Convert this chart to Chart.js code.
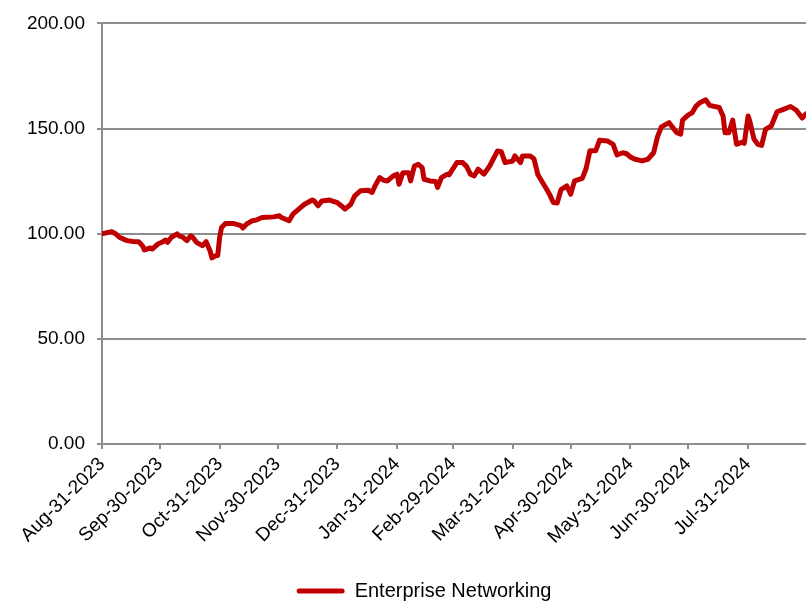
<!DOCTYPE html>
<html>
<head>
<meta charset="utf-8">
<script src="https://cdn.jsdelivr.net/npm/chart.js@4.4.1/dist/chart.umd.min.js"></script>
<style>
  html, body { margin: 0; padding: 0; background: #ffffff; }
  #wrap { width: 806px; height: 602px; }
</style>
</head>
<body>
<div id="wrap"><canvas id="c" width="806" height="602"></canvas></div>
<script>
// Index level of the Enterprise Networking basket, rebased to 100 on Aug-31-2023.
// Days are counted from Aug-31-2023.
const seriesName = 'Enterprise Networking';

const dayOffsets = [
  0, 5, 7, 9, 13, 16, 19, 21, 22, 25, 26, 29, 31, 33, 34, 36, 39, 40, 42, 44,
  46, 47, 49, 52, 54, 56, 57, 59, 60, 61, 62, 64, 68, 72, 73, 75, 78, 80, 83, 89,
  92, 93, 97, 99, 102, 105, 109, 110, 112, 114, 118, 122, 124, 126, 129, 131, 134, 138, 140, 142,
  144, 146, 148, 151, 153, 154, 156, 159, 160, 162, 164, 166, 167, 170, 173, 174, 176, 179, 180, 182,
  184, 187, 189, 191, 193, 195, 198, 201, 205, 207, 209, 213, 214, 217, 218, 222, 224, 226, 230, 232,
  234, 236, 238, 241, 243, 245, 249, 251, 253, 256, 258, 262, 265, 267, 270, 272, 274, 276, 280, 283,
  286, 288, 290, 294, 298, 300, 301, 304, 306, 308, 310, 313, 315, 320, 322, 323, 325, 327, 329, 332,
  333, 335, 336, 338, 340, 342, 344, 347, 350, 353, 357, 360, 363, 365
];

const indexValues = [
  100.0, 101.0, 100.0, 98.3, 96.7, 96.3, 96.2, 94.3, 92.3, 93.2, 92.7, 95.1, 95.9, 97.0, 95.9, 98.3, 99.9, 99.0, 98.3, 96.7,
  99.0, 98.3, 95.9, 94.3, 96.2, 91.9, 88.5, 89.6, 89.6, 98.3, 103.0, 104.9, 104.9, 103.8, 102.7, 104.6, 106.2, 106.5, 107.7, 108.0,
  108.5, 107.7, 106.2, 109.3, 111.7, 114.0, 116.0, 115.6, 113.3, 115.6, 116.0, 114.8, 113.3, 111.7, 114.0, 118.0, 120.4, 120.7, 119.6, 123.5,
  126.7, 125.4, 125.1, 127.5, 128.3, 123.5, 129.0, 129.0, 125.1, 132.2, 133.0, 131.4, 125.9, 125.1, 124.8, 122.0, 126.7, 128.3, 128.0, 131.0,
  133.8, 133.8, 132.0, 128.3, 127.5, 130.7, 128.3, 132.2, 139.3, 139.0, 133.8, 134.6, 137.0, 133.8, 137.0, 137.0, 135.5, 128.0, 122.0, 118.8,
  114.8, 114.6, 121.0, 122.7, 118.8, 125.1, 126.3, 131.0, 139.5, 139.5, 144.5, 144.1, 142.5, 137.5, 138.5, 138.0, 136.5, 135.5, 134.6, 135.4,
  138.5, 146.0, 150.8, 152.8, 148.0, 147.3, 154.0, 156.5, 157.5, 160.7, 162.3, 163.7, 161.0, 160.0, 156.0, 148.0, 148.0, 154.0, 142.5, 143.5,
  143.0, 156.0, 153.0, 145.0, 142.5, 142.0, 149.6, 151.2, 158.0, 159.0, 160.5, 158.7, 155.0, 157.0
];

// Month-end ticks on the date axis
const tickDays = [0, 30, 61, 91, 122, 153, 182, 213, 243, 274, 304, 335];
const tickLabels = [
  'Aug-31-2023', 'Sep-30-2023', 'Oct-31-2023', 'Nov-30-2023', 'Dec-31-2023', 'Jan-31-2024',
  'Feb-29-2024', 'Mar-31-2024', 'Apr-30-2024', 'May-31-2024', 'Jun-30-2024', 'Jul-31-2024'
];

const yTicks = [0, 50, 100, 150, 200];

const LINE_RED = '#c00000';
const AXIS_GREY = '#8e8e8e';
const FONT = '"Liberation Sans", Arial, Helvetica, sans-serif';

const points = dayOffsets.map((d, i) => ({ x: d, y: indexValues[i] }));

// Nudges the legend row sideways after layout
const legendShift = {
  id: 'legendShift',
  afterLayout(chart, args, opts) {
    const lg = chart.legend;
    if (lg) { lg.left += opts.dx; lg.right += opts.dx; }
  }
};

new Chart(document.getElementById('c'), {
  type: 'line',
  data: {
    datasets: [{
      label: seriesName,
      data: points,
      borderColor: LINE_RED,
      backgroundColor: LINE_RED,
      borderWidth: 5,
      pointRadius: 0,
      tension: 0,
      borderJoinStyle: 'round',
      borderCapStyle: 'round'
    }]
  },
  plugins: [legendShift],
  options: {
    responsive: false,
    animation: false,
    devicePixelRatio: 1,
    layout: { padding: { top: 21, right: 0, bottom: -9, left: 0 } },
    plugins: {
      tooltip: { enabled: false },
      legendShift: { dx: 21 },
      legend: {
        position: 'bottom',
        labels: {
          color: '#000000',
          font: { family: FONT, size: 20 },
          boxWidth: 48,
          boxHeight: 5,
          padding: 2,
          generateLabels: (chart) => [{
            text: seriesName,
            fillStyle: LINE_RED,
            strokeStyle: LINE_RED,
            lineWidth: 0,
            fontColor: '#000000',
            datasetIndex: 0,
            borderRadius: 2.5
          }],
          useBorderRadius: true,
          borderRadius: 2.5
        }
      }
    },
    scales: {
      x: {
        type: 'linear',
        min: 0,
        max: 365,
        afterBuildTicks: (scale) => {
          scale.ticks = tickDays.map(v => ({ value: v }));
        },
        afterFit: (scale) => { scale.height = 135; },
        ticks: {
          autoSkip: false,
          minRotation: 45,
          maxRotation: 45,
          padding: 4,
          color: '#000000',
          font: { family: FONT, size: 19 },
          callback: (value, index) => tickLabels[index]
        },
        grid: {
          drawOnChartArea: false,
          drawTicks: true,
          tickLength: 5,
          color: AXIS_GREY,
          lineWidth: 2
        },
        border: { display: true, color: AXIS_GREY, width: 2 }
      },
      y: {
        min: 0,
        max: 200,
        afterBuildTicks: (scale) => {
          scale.ticks = yTicks.map(v => ({ value: v }));
        },
        afterFit: (scale) => { scale.width = 102; },
        ticks: {
          padding: 12,
          color: '#000000',
          font: { family: FONT, size: 19 },
          callback: (value) => Number(value).toFixed(2)
        },
        grid: {
          color: AXIS_GREY,
          lineWidth: 2,
          drawTicks: true,
          tickLength: 5
        },
        border: { display: true, color: AXIS_GREY, width: 2 }
      }
    }
  }
});
</script>
</body>
</html>
